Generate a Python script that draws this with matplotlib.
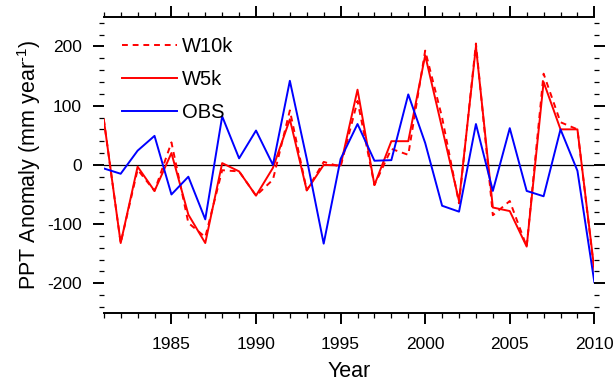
import matplotlib
matplotlib.use('Agg')
from matplotlib import pyplot as plt
from matplotlib.ticker import MultipleLocator

plt.rcParams['font.family'] = ['Liberation Sans', 'DejaVu Sans']
plt.rcParams['mathtext.fontset'] = 'custom'
plt.rcParams['mathtext.rm'] = 'Liberation Sans'
plt.rcParams['mathtext.it'] = 'Liberation Sans'
plt.rcParams['axes.unicode_minus'] = False

years = list(range(1981, 2011))

# precipitation anomaly (mm/year)
w10k = [77, -132, -8, -44, 38, -98, -122, -9, -11, -52,
        -25, 92, -43, 5, -3, 108, -34, 27, 17, 193,
        80, -65, 205, -85, -61, -138, 154, 72, 60, -180]
w5k = [77, -132, -3, -44, 20, -84, -132, 3, -11, -52,
       -5, 77, -43, 0, -1, 127, -34, 40, 40, 185,
       62, -61, 200, -72, -78, -138, 140, 60, 60, -177]
obs = [-6, -15, 24, 49, -50, -20, -92, 82, 11, 58,
       0, 142, 10, -133, 10, 69, 7, 8, 119, 37,
       -69, -79, 69, -44, 62, -44, -53, 60, -10, -198]

fig = plt.figure(figsize=(6.14, 3.83), dpi=100)
ax = fig.add_axes([0.169, 0.183, 0.799, 0.773])

ax.axhline(0, color='black', lw=0.9, zorder=1)
ax.plot(years, w10k, color='red', lw=1.4, ls=(0, (3, 2.5)), label='W10k')
ax.plot(years, w5k, color='red', lw=1.4, label='W5k')
ax.plot(years, obs, color='blue', lw=1.4, label='OBS')

ax.set_xlim(1981, 2010)
ax.set_ylim(-250, 250)

ax.xaxis.set_major_locator(MultipleLocator(5))
ax.xaxis.set_minor_locator(MultipleLocator(1))
ax.yaxis.set_major_locator(MultipleLocator(100))
ax.yaxis.set_minor_locator(MultipleLocator(20))

# NCL style: only top/bottom borders, ticks outward on all sides
ax.spines['left'].set_visible(False)
ax.spines['right'].set_visible(False)
ax.spines['top'].set_linewidth(1.4)
ax.spines['bottom'].set_linewidth(1.4)

ax.tick_params(which='both', direction='out', top=True, right=True,
               labeltop=False, labelright=False, labelsize=12.5)
ax.tick_params(which='major', length=8, width=1.4)
ax.tick_params(which='minor', length=3.5, width=0.9)
ax.tick_params(axis='x', which='major', pad=9)
ax.tick_params(axis='y', which='major', pad=8)

ax.set_xlabel('Year', fontsize=15.5, labelpad=6.5)
ax.set_ylabel(r'PPT Anomaly (mm year$^{\text{-}1}$)', fontsize=15.5, labelpad=3)

ax.legend(loc='upper left', frameon=False, fontsize=14.5, handlelength=2.7,
          handletextpad=0.25, labelspacing=0.7, borderaxespad=0.3,
          bbox_to_anchor=(0.009, 0.98))

fig.savefig('out.png', dpi=100)
